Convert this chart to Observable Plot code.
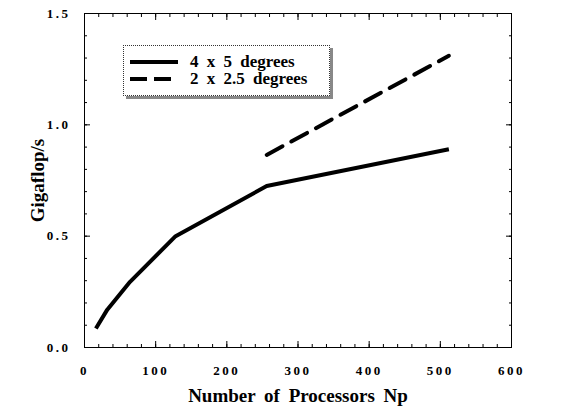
<!DOCTYPE html>
<html>
<head>
<meta charset="utf-8">
<script src="https://cdn.jsdelivr.net/npm/d3@7"></script>
<script src="https://cdn.jsdelivr.net/npm/@observablehq/plot@0.6"></script>
<style>
  html, body { margin: 0; padding: 0; background: #fff; }
  #wrap { position: relative; width: 587px; height: 407px; }
  #wrap svg text { font-family: "Liberation Serif", "Times New Roman", "DejaVu Serif", serif; }
  #legend {
    position: absolute; left: 123px; top: 45px; width: 205px; height: 49px;
    border: 1px dotted #333; background: #fff;
    box-shadow: 3px 3px 0 #888;
    font-family: "Liberation Serif", "Times New Roman", "DejaVu Serif", serif; font-weight: bold; font-size: 17px;
  }
  #legend .row { position: absolute; left: 6px; display: flex; align-items: center; }
  #legend svg { display: block; }
  #legend span { margin-left: 10px; word-spacing: 4px; line-height: 1; }
</style>
</head>
<body>
<div id="wrap"></div>
<script>
const np4x5 = [16, 32, 64, 128, 256, 512];
const gflops4x5 = [0.085, 0.17, 0.295, 0.50, 0.725, 0.89];
const np2x25 = [256, 512];
const gflops2x25 = [0.865, 1.31];
const seriesNames = ["4 x 5 degrees", "2 x 2.5 degrees"];
const xTicks = [0, 100, 200, 300, 400, 500, 600];
const yTicks = [0, 0.5, 1.0, 1.5];
const xMinor = d3.range(0, 601, 20);
const yMinor = d3.range(0, 16, 1).map(d => d / 10);

const data4 = np4x5.map((x, i) => ({x, y: gflops4x5[i]}));
const data2 = np2x25.map((x, i) => ({x, y: gflops2x25[i]}));

const fmtY = d => d.toFixed(1);
const tickOnly = {fill: "none", label: null};

const chart = Plot.plot({
  width: 587,
  height: 407,
  marginLeft: 84,
  marginRight: 76,
  marginTop: 13,
  marginBottom: 60,
  x: {domain: [0, 600]},
  y: {domain: [0, 1.5]},
  style: {fontFamily: "'Liberation Serif', 'Times New Roman', serif", background: "#fff", color: "#000"},
  marks: [
    Plot.frame({stroke: "#000", strokeWidth: 1}),
    // minor ticks
    Plot.axisX(xMinor, {anchor: "bottom", tickSize: -3, ...tickOnly}),
    Plot.axisX(xMinor, {anchor: "top", tickSize: -3, ...tickOnly}),
    Plot.axisY(yMinor, {anchor: "left", tickSize: -3, ...tickOnly}),
    Plot.axisY(yMinor, {anchor: "right", tickSize: -3, ...tickOnly}),
    // major ticks
    Plot.axisX(xTicks, {anchor: "bottom", tickSize: -6, ...tickOnly}),
    Plot.axisX(xTicks, {anchor: "top", tickSize: -6, ...tickOnly}),
    Plot.axisY(yTicks, {anchor: "left", tickSize: -6, ...tickOnly}),
    Plot.axisY(yTicks, {anchor: "right", tickSize: -6, ...tickOnly}),
    // labels
    Plot.axisX(xTicks, {anchor: "bottom", tickSize: 0, tickPadding: 18, fontSize: 13, fontWeight: "bold",
      label: "Number of Processors Np", labelAnchor: "center", labelArrow: "none", labelOffset: 54}),
    Plot.axisY(yTicks, {anchor: "left", tickSize: 0, tickPadding: 14, fontSize: 13, fontWeight: "bold", tickFormat: fmtY,
      label: "Gigaflop/s", labelAnchor: "center", labelArrow: "none", labelOffset: 54}),
    Plot.line(data4, {x: "x", y: "y", stroke: "#000", strokeWidth: 4, strokeLinejoin: "round", strokeLinecap: "butt"}),
    Plot.line(data2, {x: "x", y: "y", stroke: "#000", strokeWidth: 4, strokeDasharray: "18 10", strokeLinecap: "round"})
  ]
});

d3.select(chart).selectAll("text").filter(function() {
  return this.textContent === "Number of Processors Np" || this.textContent === "Gigaflop/s";
}).style("font-size", "19px").style("font-weight", "bold").style("word-spacing", "4px");
d3.select(chart).selectAll("[aria-label$='tick label'] text").style("letter-spacing", "2.5px");

const wrap = document.getElementById("wrap");
wrap.appendChild(chart);

const legend = document.createElement("div");
legend.id = "legend";
const dashes = [null, "17 7"];
seriesNames.forEach((name, i) => {
  const row = document.createElement("div");
  row.className = "row";
  row.style.top = (7 + i * 17) + "px";
  row.innerHTML = `<svg width="50" height="10"><line x1="0" x2="48" y1="5" y2="5" stroke="#000" stroke-width="4" ${dashes[i] ? `stroke-dasharray="${dashes[i]}"` : ""}/></svg><span>${name}</span>`;
  legend.appendChild(row);
});
wrap.appendChild(legend);
</script>
</body>
</html>
